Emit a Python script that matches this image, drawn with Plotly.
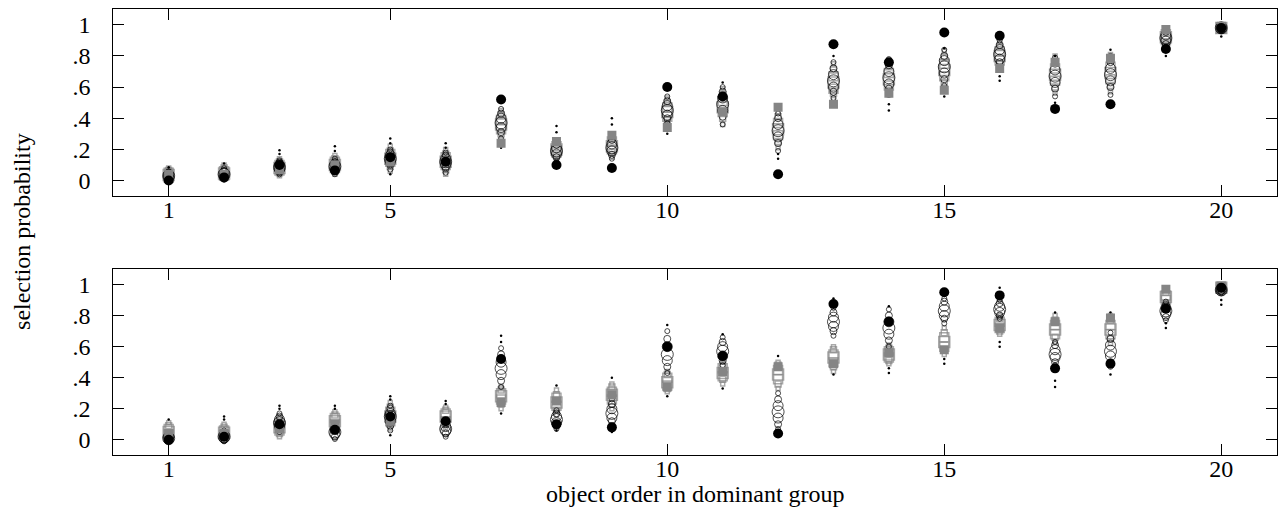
import plotly.graph_objects as go

# ---------------- data ----------------
objects = list(range(1, 21))
x_ticks = [1, 5, 10, 15, 20]
y_ticks = [0, 0.2, 0.4, 0.6, 0.8, 1.0]
y_ticklabels = ["0", ".2", ".4", ".6", ".8", "1"]

black_vals = [0.0, 0.02, 0.10, 0.065, 0.15, 0.12, 0.52, 0.10, 0.08, 0.60,
              0.54, 0.04, 0.875, 0.76, 0.95, 0.93, 0.46, 0.49, 0.845, 0.98]
gray_vals = [0.04, 0.04, 0.07, 0.10, 0.12, 0.12, 0.24, 0.25, 0.29, 0.34,
             0.44, 0.47, 0.49, 0.56, 0.58, 0.72, 0.76, 0.785, 0.97, 0.99]

top_circles = [
    [0.06, 0.05, 0.04, 0.03, 0.02, 0.01, 0.0],
    [0.08, 0.06, 0.05, 0.04, 0.03, 0.02, 0.005],
    [0.13, 0.115, 0.10, 0.085, 0.07, 0.055, 0.04],
    [0.14, 0.12, 0.105, 0.09, 0.075, 0.06, 0.04],
    [0.20, 0.18, 0.16, 0.14, 0.12, 0.10, 0.07],
    [0.18, 0.16, 0.14, 0.12, 0.10, 0.08, 0.05],
    [0.46, 0.43, 0.40, 0.37, 0.34, 0.31, 0.27],
    [0.25, 0.23, 0.21, 0.19, 0.17, 0.15, 0.12],
    [0.28, 0.26, 0.235, 0.21, 0.19, 0.165, 0.14],
    [0.54, 0.51, 0.48, 0.45, 0.42, 0.40, 0.37],
    [0.60, 0.57, 0.53, 0.49, 0.45, 0.41, 0.36],
    [0.43, 0.40, 0.36, 0.32, 0.28, 0.24, 0.19],
    [0.76, 0.72, 0.68, 0.64, 0.60, 0.57, 0.53],
    [0.78, 0.74, 0.70, 0.66, 0.62, 0.59, 0.55],
    [0.84, 0.80, 0.77, 0.73, 0.69, 0.65, 0.61],
    [0.90, 0.87, 0.84, 0.81, 0.78, 0.76, 0.73],
    [0.79, 0.75, 0.71, 0.67, 0.63, 0.59, 0.54],
    [0.80, 0.76, 0.72, 0.68, 0.64, 0.60, 0.55],
    [0.97, 0.955, 0.935, 0.915, 0.895, 0.875, 0.86],
    [0.995, 0.99, 0.985, 0.98, 0.975, 0.97, 0.96],
]
top_squares = [
    [0.08, 0.065, 0.05, 0.035, 0.02, 0.01, 0.0],
    [0.10, 0.08, 0.06, 0.045, 0.03, 0.02, 0.01],
    [0.14, 0.12, 0.10, 0.08, 0.065, 0.05, 0.03],
    [0.16, 0.14, 0.12, 0.10, 0.08, 0.06, 0.04],
    [0.22, 0.19, 0.17, 0.14, 0.12, 0.09, 0.06],
    [0.20, 0.17, 0.15, 0.12, 0.10, 0.07, 0.04],
    [0.45, 0.42, 0.39, 0.36, 0.33, 0.30, 0.26],
    [0.26, 0.24, 0.22, 0.20, 0.18, 0.16, 0.13],
    [0.30, 0.27, 0.25, 0.22, 0.20, 0.18, 0.15],
    [0.53, 0.50, 0.47, 0.44, 0.41, 0.39, 0.36],
    [0.59, 0.55, 0.51, 0.47, 0.44, 0.40, 0.36],
    [0.44, 0.41, 0.37, 0.33, 0.29, 0.25, 0.21],
    [0.75, 0.71, 0.67, 0.63, 0.59, 0.56, 0.52],
    [0.77, 0.73, 0.69, 0.65, 0.61, 0.58, 0.55],
    [0.83, 0.79, 0.75, 0.71, 0.67, 0.63, 0.60],
    [0.89, 0.86, 0.83, 0.80, 0.77, 0.75, 0.72],
    [0.80, 0.76, 0.72, 0.68, 0.64, 0.60, 0.56],
    [0.81, 0.77, 0.73, 0.69, 0.65, 0.61, 0.57],
    [0.975, 0.96, 0.94, 0.92, 0.90, 0.88, 0.865],
    [0.995, 0.99, 0.985, 0.98, 0.975, 0.97, 0.96],
]
top_tails = [
    [0.085], [0.11], [0.195, 0.17], [0.22, 0.19], [0.27, 0.24, 0.04], [0.24, 0.21],
    [0.21], [0.35, 0.31], [0.40, 0.36], [0.30], [0.63], [0.17, 0.14],
    [0.80], [0.49, 0.45], [0.85, 0.54], [0.67, 0.64], [0.80, 0.50], [0.84],
    [0.80], [0.925],
]

bot_circles = [
    [0.04, 0.03, 0.02, 0.01, 0.0, -0.005, -0.01],
    [0.06, 0.045, 0.03, 0.02, 0.01, 0.0, -0.01],
    [0.17, 0.15, 0.13, 0.11, 0.09, 0.07, 0.05],
    [0.10, 0.08, 0.065, 0.05, 0.035, 0.02, 0.005],
    [0.22, 0.20, 0.17, 0.15, 0.12, 0.09, 0.06],
    [0.12, 0.10, 0.085, 0.07, 0.055, 0.04, 0.02],
    [0.59, 0.55, 0.50, 0.46, 0.42, 0.38, 0.34],
    [0.19, 0.17, 0.15, 0.13, 0.11, 0.09, 0.07],
    [0.26, 0.23, 0.20, 0.17, 0.14, 0.12, 0.09],
    [0.70, 0.65, 0.60, 0.55, 0.51, 0.47, 0.43],
    [0.66, 0.63, 0.60, 0.57, 0.54, 0.51, 0.48],
    [0.30, 0.26, 0.22, 0.18, 0.14, 0.10, 0.07],
    [0.85, 0.82, 0.79, 0.76, 0.73, 0.70, 0.67],
    [0.84, 0.80, 0.76, 0.72, 0.68, 0.64, 0.60],
    [0.91, 0.89, 0.86, 0.83, 0.80, 0.78, 0.75],
    [0.90, 0.88, 0.86, 0.84, 0.82, 0.80, 0.78],
    [0.63, 0.61, 0.58, 0.55, 0.53, 0.50, 0.48],
    [0.69, 0.65, 0.61, 0.57, 0.54, 0.50, 0.47],
    [0.89, 0.87, 0.85, 0.83, 0.81, 0.79, 0.77],
    [0.98, 0.975, 0.97, 0.965, 0.96, 0.955, 0.95],
]
bot_squares = [
    [0.11, 0.09, 0.07, 0.05, 0.035, 0.02, 0.01],
    [0.10, 0.08, 0.06, 0.045, 0.03, 0.015, 0.0],
    [0.14, 0.12, 0.10, 0.08, 0.06, 0.04, 0.02],
    [0.18, 0.16, 0.14, 0.12, 0.10, 0.08, 0.07],
    [0.24, 0.21, 0.18, 0.15, 0.12, 0.10, 0.07],
    [0.21, 0.19, 0.17, 0.15, 0.12, 0.10, 0.08],
    [0.34, 0.32, 0.30, 0.28, 0.26, 0.23, 0.20],
    [0.32, 0.29, 0.27, 0.24, 0.22, 0.19, 0.16],
    [0.36, 0.34, 0.31, 0.29, 0.26, 0.23, 0.20],
    [0.44, 0.42, 0.40, 0.37, 0.35, 0.33, 0.31],
    [0.50, 0.48, 0.46, 0.43, 0.41, 0.39, 0.36],
    [0.50, 0.48, 0.45, 0.42, 0.39, 0.36, 0.33],
    [0.60, 0.58, 0.55, 0.53, 0.50, 0.47, 0.44],
    [0.61, 0.59, 0.57, 0.55, 0.53, 0.51, 0.49],
    [0.72, 0.69, 0.66, 0.63, 0.60, 0.58, 0.55],
    [0.80, 0.78, 0.76, 0.74, 0.72, 0.70, 0.68],
    [0.80, 0.77, 0.74, 0.71, 0.68, 0.66, 0.63],
    [0.80, 0.77, 0.74, 0.71, 0.68, 0.65, 0.62],
    [0.97, 0.95, 0.93, 0.92, 0.90, 0.88, 0.86],
    [0.995, 0.99, 0.985, 0.98, 0.975, 0.97, 0.965],
]
bot_tails = [
    [0.13], [0.15, 0.13], [0.22, 0.20], [0.22, 0.20], [0.28, 0.26, 0.03], [0.25, 0.23],
    [0.67, 0.63, 0.17], [0.35, 0.06], [0.40, 0.05], [0.74, 0.28], [0.68, 0.33], [0.54, 0.03],
    [0.91, 0.42], [0.86, 0.46, 0.43], [0.52, 0.49], [0.98, 0.63, 0.60], [0.82, 0.38, 0.34], [0.82, 0.42],
    [0.75, 0.72], [0.90, 0.87],
]

# ---------------- styles ----------------
GRAY = "#858585"
SIZE_PROFILE = [4, 6, 9, 11, 9, 6, 4]
FONT = "Liberation Serif"
FS = 24

fig = go.Figure()


def add_panel(circles, squares, tails, xa, ya):
    sx, sy, ss = [], [], []
    for x, vals in zip(objects, squares):
        for k, v in enumerate(vals):
            sx.append(x); sy.append(v); ss.append(SIZE_PROFILE[k])
    fig.add_trace(go.Scatter(x=sx, y=sy, mode="markers", xaxis=xa, yaxis=ya,
                             marker=dict(symbol="square-open", size=ss, color=GRAY,
                                         line=dict(width=1.5, color=GRAY)),
                             showlegend=False, hoverinfo="skip"))
    cx, cy, cs = [], [], []
    for x, vals in zip(objects, circles):
        for k, v in enumerate(vals):
            cx.append(x); cy.append(v); cs.append(SIZE_PROFILE[k] + 1)
    fig.add_trace(go.Scatter(x=cx, y=cy, mode="markers", xaxis=xa, yaxis=ya,
                             marker=dict(symbol="circle-open", size=cs, color="black",
                                         line=dict(width=1, color="black")),
                             showlegend=False, hoverinfo="skip"))
    tx, ty = [], []
    for x, vals in zip(objects, tails):
        for v in vals:
            tx.append(x); ty.append(v)
    fig.add_trace(go.Scatter(x=tx, y=ty, mode="markers", xaxis=xa, yaxis=ya,
                             marker=dict(symbol="circle", size=2.5, color="black"),
                             showlegend=False, hoverinfo="skip"))
    fig.add_trace(go.Scatter(x=objects, y=gray_vals, mode="markers", xaxis=xa, yaxis=ya,
                             marker=dict(symbol="square", size=9, color=GRAY),
                             showlegend=False, hoverinfo="skip"))
    fig.add_trace(go.Scatter(x=objects, y=black_vals, mode="markers", xaxis=xa, yaxis=ya,
                             marker=dict(symbol="circle", size=10, color="black"),
                             showlegend=False, hoverinfo="skip"))


add_panel(top_circles, top_squares, top_tails, "x", "y")
add_panel(bot_circles, bot_squares, bot_tails, "x2", "y2")

xdom = [0.0885, 0.9974]
axis_common = dict(showline=True, linecolor="black", linewidth=1.2, mirror="ticks",
                   ticks="inside", ticklen=11, tickcolor="black", tickwidth=1,
                   showgrid=False, zeroline=False,
                   tickfont=dict(family=FONT, size=FS, color="black"))

xa = dict(axis_common, range=[0, 21], tickvals=x_ticks, ticktext=[str(t) for t in x_ticks],
          domain=xdom, ticklabelstandoff=-8)
ya = dict(axis_common, range=[-0.1, 1.1], tickvals=y_ticks, ticktext=y_ticklabels,
          ticklabelstandoff=17)

fig.update_layout(
    width=1280, height=512,
    margin=dict(l=0, r=0, t=0, b=0),
    paper_bgcolor="white", plot_bgcolor="white",
    xaxis=dict(xa, anchor="y"),
    yaxis=dict(ya, domain=[0.617, 0.982], anchor="x"),
    xaxis2=dict(xa, anchor="y2"),
    yaxis2=dict(ya, domain=[0.1107, 0.4746], anchor="x2"),
    annotations=[
        dict(text="selection probability", x=0.0172, y=0.547, xref="paper", yref="paper",
             textangle=-90, showarrow=False, xanchor="center", yanchor="middle",
             font=dict(family=FONT, size=FS, color="black")),
        dict(text="object order in dominant group", x=0.543, y=0.035, xref="paper",
             yref="paper", showarrow=False, xanchor="center", yanchor="middle",
             font=dict(family=FONT, size=FS, color="black")),
    ],
)

fig.write_html("out.html", config={"displayModeBar": False},
               post_script="document.body.style.margin='0';")
